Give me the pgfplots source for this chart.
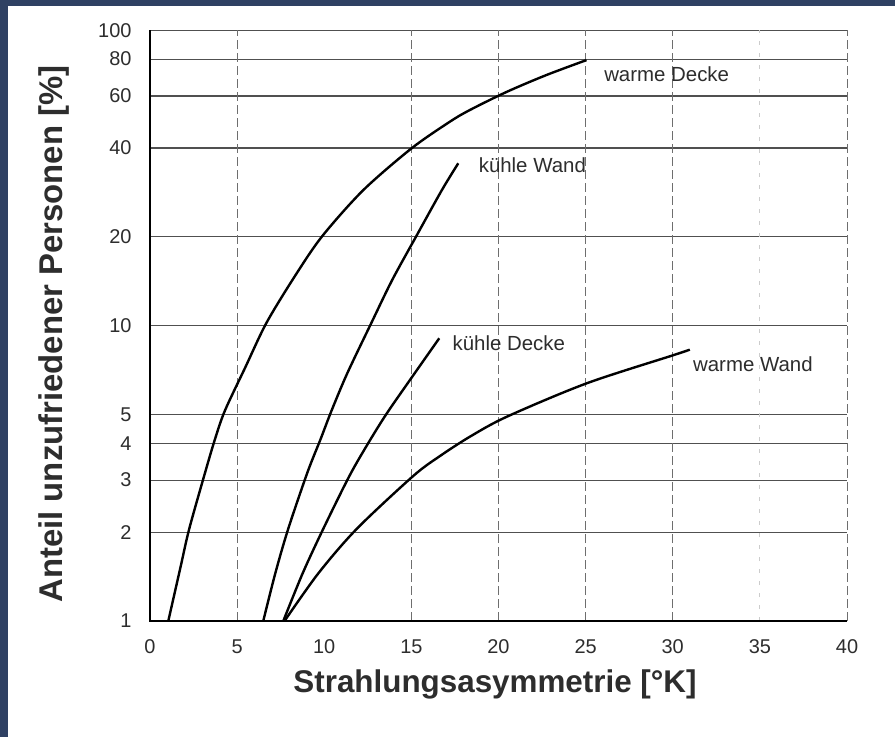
\documentclass[border=0pt]{standalone}
\usepackage{pgfplots}
\pgfplotsset{compat=1.18}
\usepackage{fontspec}
\setmainfont{Liberation Sans}
\definecolor{framecol}{RGB}{47,65,99}
\definecolor{gridh}{RGB}{80,80,80}
\definecolor{gridv}{RGB}{110,110,110}
\definecolor{ticktext}{RGB}{45,45,45}
\begin{document}
\begin{tikzpicture}
\fill[framecol] (-150bp,-116bp) rectangle (745bp,621bp);
\fill[white] (-142bp,-116bp) rectangle (745bp,615bp);
\begin{axis}[
  at={(0bp,0bp)}, anchor=south west,
  scale only axis, width=697bp, height=590.5bp,
  xmin=0, xmax=40, ymin=1, ymax=100, ymode=log,
  axis line style={draw=none},
  major tick length=0pt, minor tick length=0pt,
  xtick={0,5,10,15,20,25,30,35,40},
  xticklabels={0,5,10,15,20,25,30,35,40},
  ytick={1,2,3,4,5,10,20,40,60,80,100},
  yticklabels={1,2,3,4,5,10,20,40,60,80,100},
  ymajorgrids, major grid style={gridh, line width=1.2bp},
  tick label style={font=\fontsize{20}{20}\selectfont, text=ticktext},
  xticklabel style={yshift=-15bp},
  yticklabel style={xshift=-15bp},
  xlabel={Strahlungsasymmetrie [°K]},
  ylabel={Anteil unzufriedener Personen [\%]},
  xlabel style={font=\bfseries\fontsize{31.5}{31.5}\selectfont, text=ticktext, at={(rel axis cs:0.495,-0.108)}, anchor=center},
  ylabel style={font=\bfseries\fontsize{33}{33}\selectfont, text=ticktext, at={(rel axis cs:-0.138,0.486)}, anchor=center},
  clip=false,
]
% vertical dashed grid lines (no line at 10, faint at 35)
\draw[gridv, line width=1bp, dash pattern=on 9bp off 4bp] (axis cs:5,1) -- (axis cs:5,100);
\draw[gridv, line width=1bp, dash pattern=on 9bp off 4bp] (axis cs:15,1) -- (axis cs:15,100);
\draw[gridv, line width=1bp, dash pattern=on 9bp off 4bp] (axis cs:20,1) -- (axis cs:20,100);
\draw[gridv, line width=1bp, dash pattern=on 9bp off 4bp] (axis cs:25,1) -- (axis cs:25,100);
\draw[gridv, line width=1bp, dash pattern=on 9bp off 4bp] (axis cs:30,1) -- (axis cs:30,100);
\draw[gridv!35, line width=1bp, dash pattern=on 4bp off 8bp] (axis cs:35,1) -- (axis cs:35,100);
\draw[gridv, line width=1bp, dash pattern=on 9bp off 4bp] (axis cs:40,1) -- (axis cs:40,100);
\draw[black, line width=1.6bp] (axis cs:0,100) -- (axis cs:0,1) -- (axis cs:40,1);

% warme Decke
\addplot[black, line width=2.4bp, smooth] coordinates {
 (1.05,1) (1.76,1.53) (2.25,2.05) (3.16,3.18) (3.73,4.13) (4.30,5.16) (5.45,7.19) (6.70,10.27) (8.42,15.06)
 (9.91,20.2) (12.24,28.8) (15.01,39.9) (17.21,49.1) (18.36,53.8) (20.48,62.0) (22.76,70.7) (25.05,79.4)};
% kuehle Wand
\addplot[black, line width=2.4bp, smooth] coordinates {
 (6.50,1) (7.19,1.45) (7.93,2.05) (9.03,3.18) (9.79,4.13) (10.42,5.16) (11.32,6.90) (12.72,10.27)
 (13.90,14.29) (15.30,20.2) (16.75,28.8) (17.69,35.5)};
% kuehle Decke
\addplot[black, line width=2.4bp, smooth] coordinates {
 (7.65,1) (8.76,1.45) (9.94,2.05) (11.47,3.12) (12.62,4.09) (13.62,5.08) (15.05,6.72) (16.60,9.07)};
% warme Wand
\addplot[black, line width=2.4bp, smooth] coordinates {
 (7.72,1) (9.66,1.45) (11.86,2.05) (15.11,3.10) (16.64,3.62) (18.36,4.21) (20.48,4.92) (25.05,6.38)
 (30.06,7.96) (30.98,8.3)};

\node[anchor=west, inner sep=1bp, font=\fontsize{20.5}{20.5}\selectfont, text=ticktext] at (axis cs:26,71) {warme Decke};
\node[anchor=west, inner sep=1bp, font=\fontsize{20.5}{20.5}\selectfont, text=ticktext] at (axis cs:18.8,35) {kühle Wand};
\node[anchor=west, inner sep=1bp, font=\fontsize{20.5}{20.5}\selectfont, text=ticktext] at (axis cs:17.3,8.7) {kühle Decke};
\node[anchor=west, inner sep=1bp, font=\fontsize{20.5}{20.5}\selectfont, text=ticktext] at (axis cs:31.1,7.4) {warme Wand};
\end{axis}
\end{tikzpicture}
\end{document}
